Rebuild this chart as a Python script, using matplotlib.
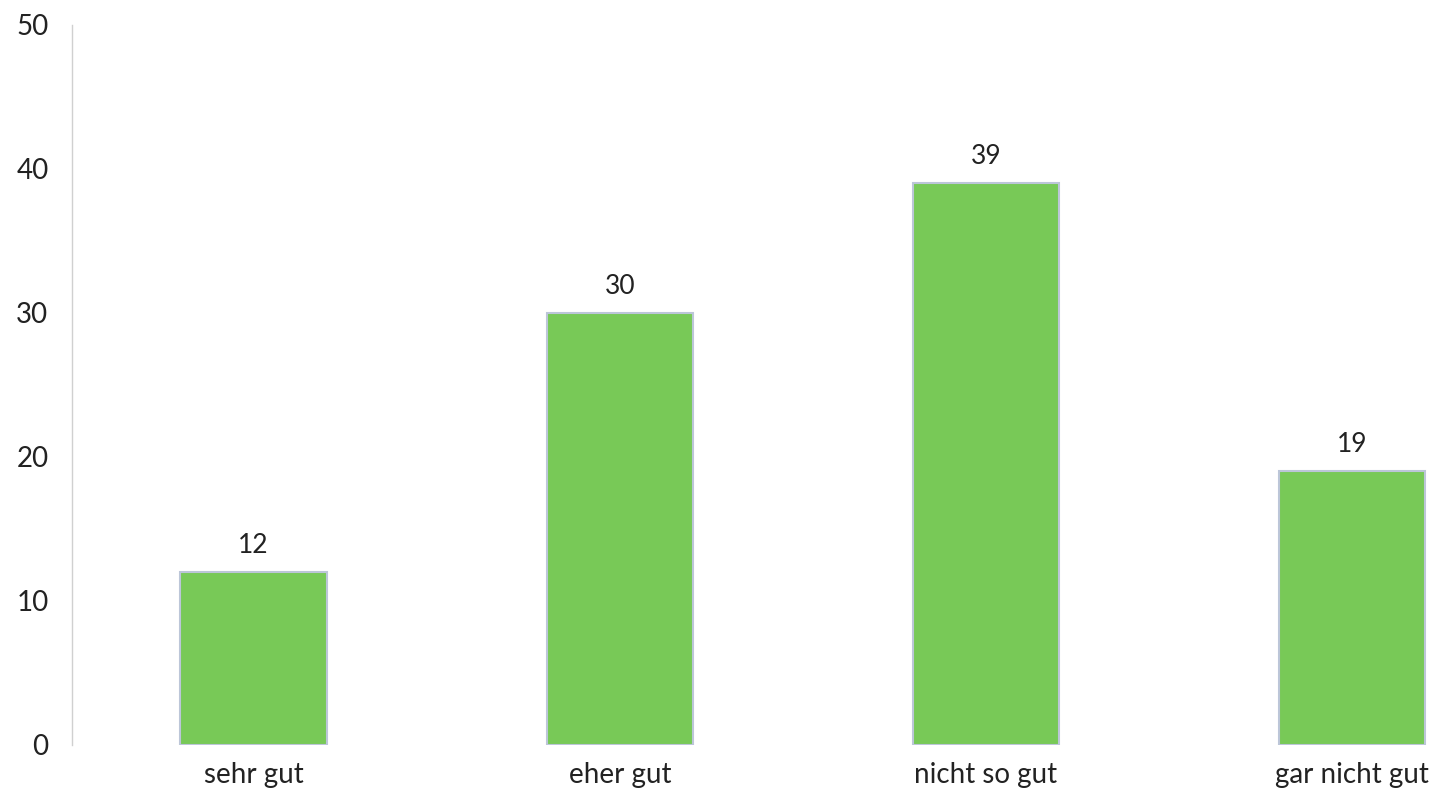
import matplotlib.pyplot as plt

categories = ['sehr gut', 'eher gut', 'nicht so gut', 'gar nicht gut']
values = [12, 30, 39, 19]
y_ticks = [0, 10, 20, 30, 40, 50]

plt.rcParams['font.family'] = ['Lato', 'DejaVu Sans']

fig = plt.figure(figsize=(14.41, 8.01), dpi=100)
ax = fig.add_axes([0.05, 0.07, 0.95, 0.899])

x = range(len(categories))
bars = ax.bar(x, values, width=0.40, color='#78c957',
              edgecolor='#bcc6d8', linewidth=1.5)

for b, v in zip(bars, values):
    ax.annotate(str(v), (b.get_x() + b.get_width() / 2, v),
                xytext=(0, 10), textcoords='offset points',
                ha='center', va='bottom', fontsize=19, color='#222222')

ax.set_xlim(-0.496, 3.243)
ax.set_ylim(0, 50)
ax.set_yticks(y_ticks)
ax.set_xticks(list(x))
ax.set_xticklabels(categories)

for s in ['top', 'right', 'bottom']:
    ax.spines[s].set_visible(False)
ax.spines['left'].set_color('#d0d0d0')
ax.spines['left'].set_linewidth(1)

ax.tick_params(axis='y', length=0, pad=17, labelsize=20, labelcolor='#222222')
ax.tick_params(axis='x', length=0, pad=12, labelsize=20, labelcolor='#222222')

fig.savefig('out.png', dpi=100, facecolor='white')
